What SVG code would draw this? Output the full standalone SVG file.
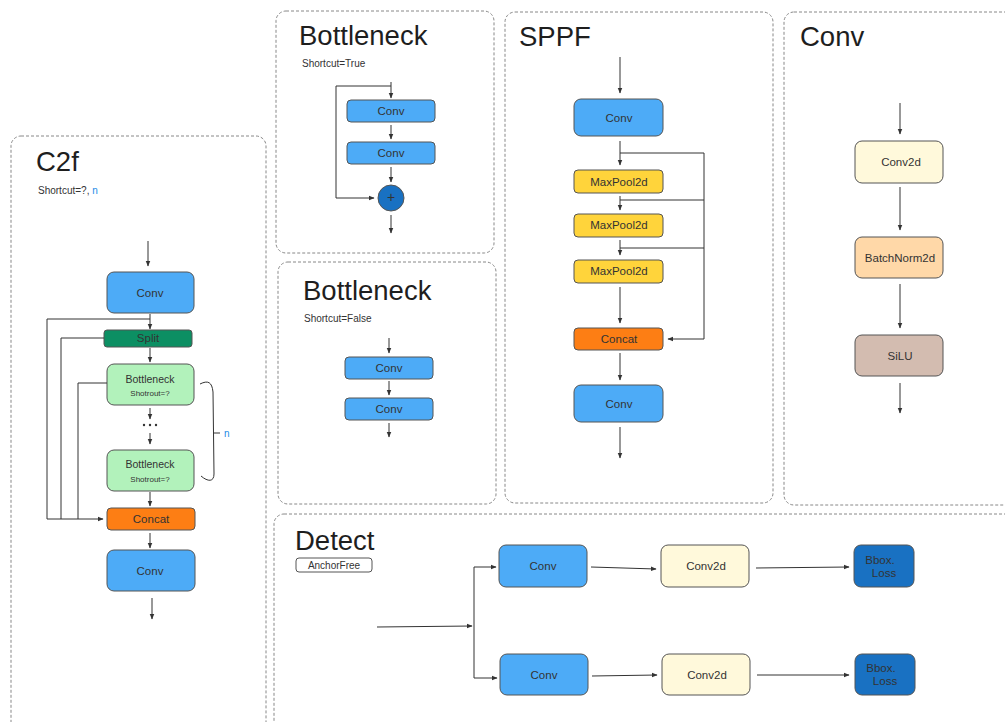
<svg xmlns="http://www.w3.org/2000/svg" width="1005" height="722" viewBox="0 0 1005 722">
<defs>
<marker id="ah" viewBox="0 0 10 10" refX="9" refY="5" markerWidth="6" markerHeight="6" orient="auto-start-reverse"><path d="M0,1 L10,5 L0,9 z" fill="#333"/></marker>
<style>
text{font-family:"Liberation Sans",Arial,sans-serif;fill:#333}
.panel{fill:none;stroke:#888;stroke-width:1;stroke-dasharray:3 2}
.title{font-size:27.5px;fill:#1e1e1e}
.sub{font-size:10px}
.n{stroke:#555;stroke-width:1}
.lbl{font-size:11.5px;text-anchor:middle;dominant-baseline:central}
.small{font-size:8px;text-anchor:middle;dominant-baseline:central}
.blue{fill:#4dabf7}
.dblue{fill:#1971c2}
.green{fill:#0c8f63}
.lgreen{fill:#b2f2bb}
.orange{fill:#fd7e14}
.yellow{fill:#ffd43b}
.cream{fill:#fff9db}
.peach{fill:#ffd8a8}
.brown{fill:#d3bcb0}
.c{fill:none;stroke:#333;stroke-width:1}
.a{fill:none;stroke:#333;stroke-width:1;marker-end:url(#ah)}
</style>
</defs>
<rect width="1005" height="722" fill="#fff"/>

<g id="panels">
<rect class="panel" x="11" y="136" width="255" height="600" rx="10"/>
<rect class="panel" x="276" y="11" width="218" height="242" rx="10"/>
<rect class="panel" x="278" y="262" width="218" height="242" rx="10"/>
<rect class="panel" x="505" y="12" width="268" height="491" rx="10"/>
<rect class="panel" x="784" y="12" width="240" height="493" rx="10"/>
<rect class="panel" x="274" y="514" width="750" height="230" rx="10"/>
</g>

<g id="titles">
<text class="title" x="36" y="171">C2f</text>
<text class="sub" x="38" y="194">Shortcut=?, <tspan fill="#228be6">n</tspan></text>
<text class="title" x="299" y="45">Bottleneck</text>
<text class="sub" x="302" y="67">Shortcut=True</text>
<text class="title" x="303" y="300">Bottleneck</text>
<text class="sub" x="304" y="322">Shortcut=False</text>
<text class="title" x="519" y="46">SPPF</text>
<text class="title" x="800" y="46">Conv</text>
<text class="title" x="295" y="550">Detect</text>
</g>

<g id="anchorfree"><rect x="296" y="558" width="76" height="14" rx="3" fill="#fff" stroke="#555"/><text class="lbl" x="334" y="565" style="font-size:10px">AnchorFree</text></g>

<!-- C2f nodes -->
<g id="c2f_conv1"><rect class="n blue" x="107" y="272" width="87" height="41" rx="7"/><text class="lbl" x="150" y="293">Conv</text></g>
<g id="c2f_split"><rect class="n green" x="104" y="330" width="88" height="17" rx="3"/><text class="lbl" x="148" y="338">Split</text></g>
<g id="c2f_bn1"><rect class="n lgreen" x="107" y="364" width="87" height="41" rx="7"/><text class="lbl" x="150" y="379" style="font-size:10.5px">Bottleneck</text><text class="small" x="150" y="393">Shotrout=?</text></g>
<g id="c2f_dots"><circle cx="144" cy="425" r="1.2" fill="#333"/><circle cx="150" cy="425" r="1.2" fill="#333"/><circle cx="156" cy="425" r="1.2" fill="#333"/></g>
<g id="c2f_bn2"><rect class="n lgreen" x="107" y="450" width="87" height="41" rx="7"/><text class="lbl" x="150" y="464" style="font-size:10.5px">Bottleneck</text><text class="small" x="150" y="479">Shotrout=?</text></g>
<g id="c2f_concat"><rect class="n orange" x="107" y="508" width="88" height="22" rx="4"/><text class="lbl" x="151" y="519">Concat</text></g>
<g id="c2f_conv2"><rect class="n blue" x="107" y="550" width="88" height="41" rx="7"/><text class="lbl" x="150" y="571">Conv</text></g>
<g id="c2f_brace"><path class="c" d="M200,384 C208,380 212,382 213,392 L214,474 C214,482 208,482 201,476" stroke="#444"/><line class="c" x1="214" y1="433" x2="220" y2="433"/><text x="224" y="437" style="font-size:10px;fill:#228be6">n</text></g>

<!-- Bottleneck True -->
<g id="bt_conv1"><rect class="n blue" x="347" y="100" width="88" height="22" rx="4"/><text class="lbl" x="391" y="111">Conv</text></g>
<g id="bt_conv2"><rect class="n blue" x="347" y="142" width="88" height="22" rx="4"/><text class="lbl" x="391" y="153">Conv</text></g>
<g id="bt_add"><circle class="n dblue" cx="391" cy="198" r="13"/><text class="lbl" x="391" y="197" style="font-size:14px">+</text></g>

<!-- Bottleneck False -->
<g id="bf_conv1"><rect class="n blue" x="345" y="357" width="88" height="22" rx="4"/><text class="lbl" x="389" y="368">Conv</text></g>
<g id="bf_conv2"><rect class="n blue" x="345" y="398" width="88" height="22" rx="4"/><text class="lbl" x="389" y="409">Conv</text></g>

<!-- SPPF -->
<g id="sp_conv1"><rect class="n blue" x="574" y="99" width="89" height="37" rx="7"/><text class="lbl" x="619" y="118">Conv</text></g>
<g id="sp_mp1"><rect class="n yellow" x="574" y="170" width="89" height="23" rx="4"/><text class="lbl" x="619" y="182">MaxPool2d</text></g>
<g id="sp_mp2"><rect class="n yellow" x="574" y="214" width="89" height="23" rx="4"/><text class="lbl" x="619" y="225">MaxPool2d</text></g>
<g id="sp_mp3"><rect class="n yellow" x="574" y="260" width="89" height="23" rx="4"/><text class="lbl" x="619" y="271">MaxPool2d</text></g>
<g id="sp_concat"><rect class="n orange" x="574" y="328" width="89" height="22" rx="4"/><text class="lbl" x="619" y="339">Concat</text></g>
<g id="sp_conv2"><rect class="n blue" x="574" y="385" width="89" height="37" rx="7"/><text class="lbl" x="619" y="404">Conv</text></g>

<!-- Conv -->
<g id="cv_conv2d"><rect class="n cream" x="855" y="141" width="88" height="42" rx="7"/><text class="lbl" x="901" y="162">Conv2d</text></g>
<g id="cv_bn"><rect class="n peach" x="855" y="237" width="88" height="41" rx="7"/><text class="lbl" x="900" y="258">BatchNorm2d</text></g>
<g id="cv_silu"><rect class="n brown" x="855" y="335" width="88" height="41" rx="7"/><text class="lbl" x="900" y="356">SiLU</text></g>

<!-- Detect -->
<g id="dt_conv1"><rect class="n blue" x="499" y="545" width="88" height="42" rx="7"/><text class="lbl" x="543" y="566">Conv</text></g>
<g id="dt_conv2"><rect class="n blue" x="500" y="654" width="88" height="41" rx="7"/><text class="lbl" x="544" y="675">Conv</text></g>
<g id="dt_conv2d1"><rect class="n cream" x="661" y="545" width="88" height="42" rx="7"/><text class="lbl" x="706" y="566">Conv2d</text></g>
<g id="dt_conv2d2"><rect class="n cream" x="662" y="654" width="88" height="41" rx="7"/><text class="lbl" x="707" y="675">Conv2d</text></g>
<g id="dt_bbox1"><rect class="n dblue" x="854" y="545" width="60" height="42" rx="7"/><text class="lbl" x="880" y="560">Bbox.</text><text class="lbl" x="884" y="573">Loss</text></g>
<g id="dt_bbox2"><rect class="n dblue" x="855" y="654" width="60" height="41" rx="7"/><text class="lbl" x="881" y="668">Bbox.</text><text class="lbl" x="885" y="681">Loss</text></g>

<g id="connectors">
<!-- C2f -->
<line class="a" x1="148" y1="241" x2="148" y2="266"/>
<line class="a" x1="150" y1="314" x2="150" y2="329"/>
<polyline class="c" points="150,319 47,319 47,519"/>
<polyline class="c" points="104,338 61,338 61,519"/>
<polyline class="c" points="107,383 78,383 78,519"/>
<line class="a" x1="47" y1="519" x2="103" y2="519"/>
<line class="a" x1="150" y1="348" x2="150" y2="362"/>
<line class="a" x1="150" y1="408" x2="150" y2="419"/>
<line class="a" x1="150" y1="433" x2="150" y2="444"/>
<line class="a" x1="150" y1="492" x2="150" y2="506"/>
<line class="a" x1="150" y1="533" x2="150" y2="548"/>
<line class="a" x1="152" y1="598" x2="152" y2="619"/>
<!-- Bottleneck True -->
<line class="a" x1="391" y1="82" x2="391" y2="98"/>
<polyline class="a" points="391,86 336,86 336,198 374,198"/>
<line class="a" x1="391" y1="125" x2="391" y2="139"/>
<line class="a" x1="391" y1="167" x2="391" y2="182"/>
<line class="a" x1="391" y1="215" x2="391" y2="233"/>
<!-- Bottleneck False -->
<line class="a" x1="389" y1="338" x2="389" y2="353"/>
<line class="a" x1="389" y1="381" x2="389" y2="395"/>
<line class="a" x1="389" y1="423" x2="389" y2="437"/>
<!-- SPPF -->
<line class="a" x1="620" y1="57" x2="620" y2="93"/>
<line class="a" x1="620" y1="141" x2="620" y2="165"/>
<polyline class="c" points="620,153 704,153 704,339"/>
<polyline class="c" points="620,200 704,200"/>
<polyline class="c" points="620,248 704,248"/>
<line class="a" x1="704" y1="339" x2="668" y2="339"/>
<line class="a" x1="620" y1="196" x2="620" y2="210"/>
<line class="a" x1="620" y1="240" x2="620" y2="255"/>
<line class="a" x1="620" y1="287" x2="620" y2="323"/>
<line class="a" x1="620" y1="353" x2="620" y2="380"/>
<line class="a" x1="620" y1="427" x2="620" y2="458"/>
<!-- Conv -->
<line class="a" x1="900" y1="103" x2="900" y2="134"/>
<line class="a" x1="900" y1="187" x2="900" y2="230"/>
<line class="a" x1="900" y1="284" x2="900" y2="328"/>
<line class="a" x1="900" y1="383" x2="900" y2="413"/>
<!-- Detect -->
<line class="a" x1="377" y1="627" x2="472" y2="626"/>
<line class="c" x1="474" y1="567" x2="474" y2="678"/>
<line class="a" x1="474" y1="567" x2="496" y2="567"/>
<line class="a" x1="474" y1="678" x2="497" y2="678"/>
<line class="a" x1="591" y1="567" x2="656" y2="569"/>
<line class="a" x1="592" y1="676" x2="657" y2="675"/>
<line class="a" x1="756" y1="568" x2="849" y2="567"/>
<line class="a" x1="757" y1="675" x2="849" y2="675"/>
</g>
</svg>
